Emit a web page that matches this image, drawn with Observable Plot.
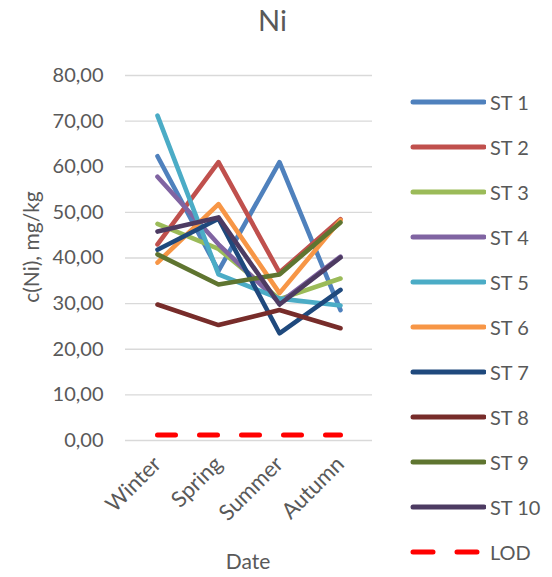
<!DOCTYPE html>
<html>
<head>
<meta charset="utf-8">
<script src="https://cdn.jsdelivr.net/npm/d3@7"></script>
<script src="https://cdn.jsdelivr.net/npm/@observablehq/plot@0.6"></script>
<style>
  html, body { margin: 0; padding: 0; background: #fff; }
  #wrap { position: relative; width: 552px; height: 577px; font-family: Lato, "Open Sans", sans-serif; color: #595959; }
  #title { position: absolute; left: 0; width: 545px; top: 2px; text-align: center; font-size: 29px; color: #595959; }
  #ytitle { position: absolute; left: 30px; top: 247px; transform: translate(-50%, -50%) rotate(-90deg); white-space: nowrap; font-size: 21px; color: #595959; }
  #xtitle { position: absolute; left: 248px; top: 560px; transform: translate(-50%, -50%); white-space: nowrap; font-size: 21px; color: #595959; }
  #legend { position: absolute; left: 408px; top: 79px; }
  .lg { display: flex; align-items: center; height: 45px; font-size: 20px; color: #595959; }
  .lg svg { margin-right: 4px; }
</style>
</head>
<body>
<div id="wrap">
  <div id="title">Ni</div>
  <div id="chart"></div>
  <div id="ytitle"></div>
  <div id="xtitle"></div>
  <div id="legend"></div>
</div>
<script>
const seasons = ["Winter", "Spring", "Summer", "Autumn"];
const stations = ["ST 1", "ST 2", "ST 3", "ST 4", "ST 5", "ST 6", "ST 7", "ST 8", "ST 9", "ST 10"];
const colors = ["#4F81BD", "#C0504D", "#9BBB59", "#8064A2", "#4BACC6", "#F79646", "#1F497D", "#772C2A", "#5F7530", "#4D3B62"];
const st1 = [62.3, 37.2, 61.0, 28.6];
const st2 = [43.0, 61.0, 36.8, 48.5];
const st3 = [47.5, 42.0, 31.0, 35.5];
const st4 = [57.8, 43.0, 30.2, 40.3];
const st5 = [71.2, 36.4, 31.1, 29.6];
const st6 = [39.0, 51.8, 32.3, 48.3];
const st7 = [41.8, 48.6, 23.5, 33.0];
const st8 = [29.8, 25.3, 28.6, 24.6];
const st9 = [40.8, 34.2, 36.4, 47.8];
const st10 = [45.8, 48.9, 29.8, 40.1];
const lodValue = [1.2, 1.2, 1.2, 1.2];
const lodLabel = "LOD";
const lodColor = "#FF0000";
const yTicks = [0, 10, 20, 30, 40, 50, 60, 70, 80];
const xTitle = "Date";
const yTitle = "c(Ni), mg/kg";

document.getElementById("xtitle").textContent = xTitle;
document.getElementById("ytitle").textContent = yTitle;

const series = [st1, st2, st3, st4, st5, st6, st7, st8, st9, st10];
const rows = [];
series.forEach((vals, i) => vals.forEach((v, j) => rows.push({station: stations[i], season: seasons[j], value: v})));
const lodRows = lodValue.map((v, j) => ({season: seasons[j], value: v}));
const fmt = d => d.toFixed(2).replace(".", ",");

const chart = Plot.plot({
  width: 552,
  height: 577,
  marginLeft: 125,
  marginRight: 180,
  marginTop: 75,
  marginBottom: 137,
  style: {fontFamily: "Lato, 'Open Sans', sans-serif", fontSize: "20px", color: "#595959", background: "#fff"},
  x: {type: "point", domain: seasons, padding: 0.5},
  y: {domain: [0, 80]},
  color: {domain: stations, range: colors},
  marks: [
    Plot.gridY(yTicks, {stroke: "#d9d9d9", strokeOpacity: 1, strokeWidth: 1.3}),
    Plot.axisY(yTicks, {tickFormat: fmt, tickSize: 0, tickPadding: 22, label: null, fontSize: 20}),
    Plot.axisX(seasons, {tickRotate: -45, tickSize: 0, tickPadding: 20, label: null, fontSize: 22}),
    Plot.line(rows, {x: "season", y: "value", z: "station", stroke: "station", strokeWidth: 4.6, strokeLinecap: "round", strokeLinejoin: "round"}),
    Plot.line(lodRows, {x: "season", y: "value", stroke: lodColor, strokeWidth: 5, strokeDasharray: "18,24", strokeLinecap: "round"})
  ]
});
document.getElementById("chart").appendChild(chart);

const legend = document.getElementById("legend");
stations.forEach((s, i) => {
  const d = document.createElement("div");
  d.className = "lg";
  d.innerHTML = `<svg width="78" height="10"><line x1="5" x2="76" y1="5" y2="5" stroke="${colors[i]}" stroke-width="5" stroke-linecap="round"/></svg><span>${s}</span>`;
  legend.appendChild(d);
});
const dl = document.createElement("div");
dl.className = "lg";
dl.innerHTML = `<svg width="78" height="10"><line x1="5" x2="76" y1="5" y2="5" stroke="${lodColor}" stroke-width="5" stroke-dasharray="20,24" stroke-linecap="round"/></svg><span>${lodLabel}</span>`;
legend.appendChild(dl);
</script>
</body>
</html>
